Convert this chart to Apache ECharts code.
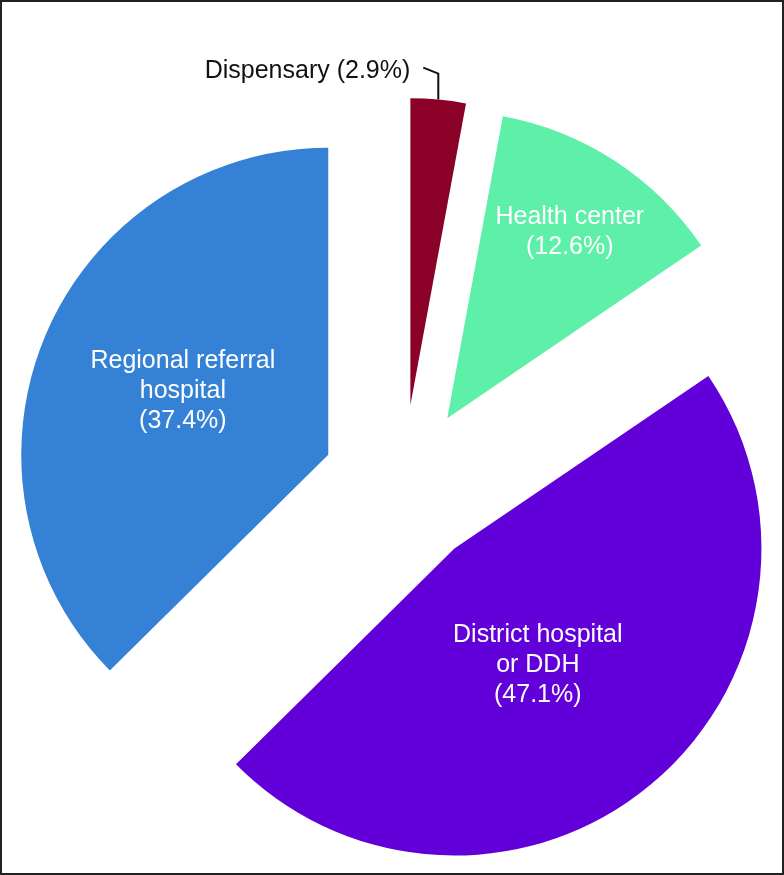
<!DOCTYPE html>
<html><head><meta charset="utf-8">
<script src="https://cdn.jsdelivr.net/npm/echarts@6/dist/echarts.min.js"></script>
<style>
html,body{margin:0;padding:0;background:#fff}
#chart{position:absolute;left:0;top:0;width:784px;height:875px;}
#frame{position:absolute;left:0;top:0;width:784px;height:875px;box-sizing:border-box;border:2px solid #222;pointer-events:none;}
</style></head><body>
<div id="chart"></div><div id="frame"></div>
<script>
const categories = ['Dispensary', 'Health center', 'District hospital\nor DDH', 'Regional referral\nhospital'];
const values = [2.9, 12.6, 47.1, 37.4];
const colors = ['#8a0026', '#5ef0a9', '#6100d9', '#3581d6'];
const labelShift = [[-49, -7], [37, -55], [-16, -4], [-1, -3]];

const chart = echarts.init(document.getElementById('chart'), null, {renderer: 'canvas'});
const data = categories.map((c, i) => ({
  name: c,
  value: values[i],
  selected: true,
  itemStyle: {color: colors[i]},
  label: i === 0 ? {position: 'outside', color: '#111', formatter: '{b} ({c}%)'} : {}
}));
chart.setOption({
  animation: false,
  backgroundColor: '#fff',
  series: [{
    type: 'pie',
    center: [403, 486],
    radius: 307,
    startAngle: 90,
    clockwise: true,
    selectedMode: 'multiple',
    selectedOffset: 81,
    avoidLabelOverlap: false,
    emphasis: {disabled: true},
    data: data,
    label: {
      position: 'inside',
      color: '#fff',
      fontFamily: 'Liberation Sans',
      fontSize: 25,
      lineHeight: 30,
      align: 'center',
      formatter: '{b}\n({c}%)'
    },
    labelLine: {show: true, length: 22, length2: 14, lineStyle: {color: '#111', width: 2}},
    labelLayout: function (p) {
      const i = p.dataIndex;
      if (i === 0 && p.labelLinePoints) {
        const p0 = p.labelLinePoints[0];
        const p1 = [p0[0], p0[1] - 26];
        const p2 = [p1[0] - 15, p1[1] - 6];
        return {dx: labelShift[i][0], dy: labelShift[i][1], align: 'right', verticalAlign: 'middle', labelLinePoints: [p0, p1, p2]};
      }
      return {dx: labelShift[i][0], dy: labelShift[i][1]};
    }
  }]
});
</script></body></html>
